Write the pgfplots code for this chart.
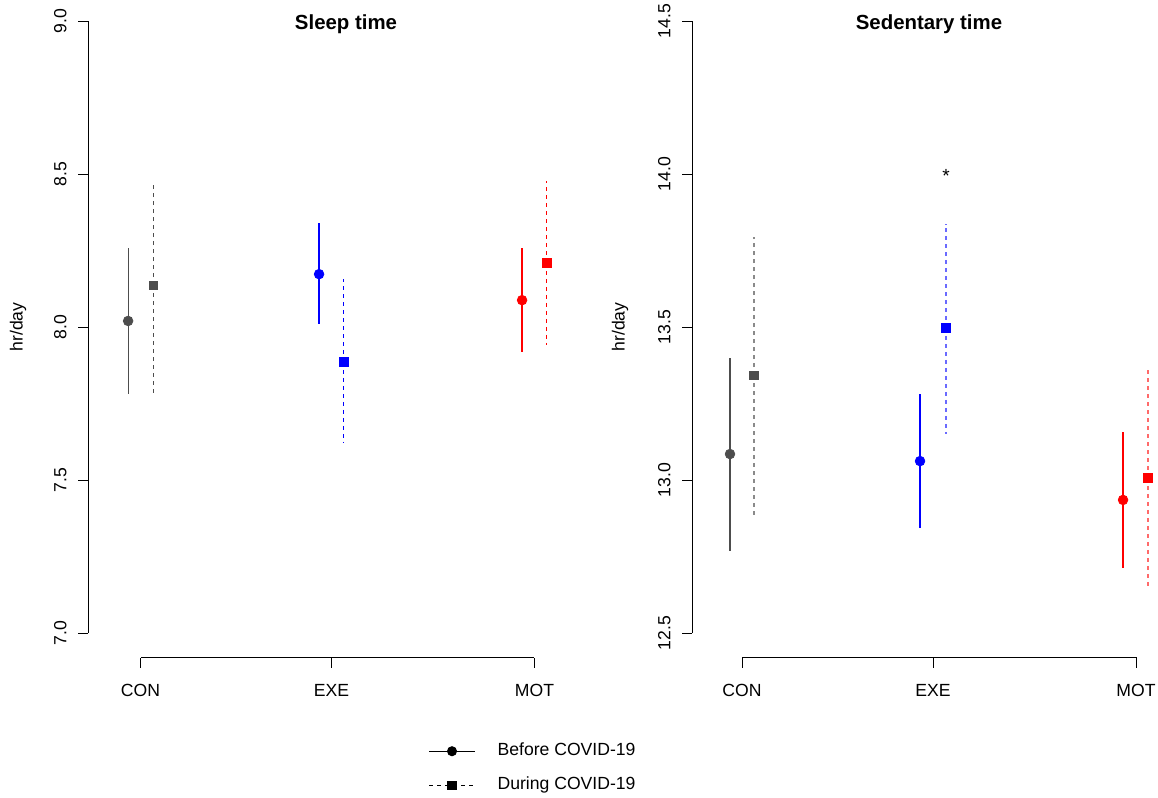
\documentclass[border=0pt]{standalone}
\usepackage{pgfplots}
\pgfplotsset{compat=1.18}
\usepackage{fontspec}
\setmainfont{Liberation Sans}
\definecolor{cgray}{HTML}{4D4D4D}
\definecolor{cgrayl}{HTML}{8A8A8A}
\definecolor{cblue}{HTML}{0000FF}
\definecolor{cbluel}{HTML}{6A6AFF}
\definecolor{cred}{HTML}{FF0000}
\definecolor{credl}{HTML}{FF6A6A}
\pgfplotsset{
  rstyle/.style={
    scale only axis,
    axis line style={draw=none},
    xtick pos=left, ytick pos=left,
    tick align=outside,
    major tick length=5pt,
    tick style={black, line width=0.5pt},
    xtick={1,2,3.063}, xticklabels={CON,EXE,MOT},
    /pgf/number format/assume math mode=true,
    yticklabel style={/pgf/number format/.cd, fixed, fixed zerofill, precision=1, /tikz/.cd,
      xshift=-5.5pt, rotate=90, anchor=south, inner sep=0pt},
    xticklabel style={anchor=north, inner sep=0pt, yshift=-8pt},
    clip=false,
  },
  bef/.style={only marks, mark=*, mark size=2.4pt, color=#1, mark options={solid, draw=#1, fill=#1},
    error bars/.cd, y dir=both, y explicit, error mark=none,
    error bar style={solid, line width=0.6pt, color=#1}, /pgfplots/.cd},
  dur/.style n args={2}{only marks, mark=square*, mark size=2.1pt, color=#1, mark options={solid, draw=#1, fill=#1},
    error bars/.cd, y dir=both, y explicit, error mark=none,
    error bar style={dash pattern=on 2pt off 2pt, line width=0.6pt, color=#2}, /pgfplots/.cd},
}
\begin{document}
\fontsize{8.8}{10.5}\selectfont
\begin{tikzpicture}
\useasboundingbox (0,0) rectangle (579pt,-399pt);
% ---------------- Sleep time ----------------
\begin{axis}[rstyle,
  at={(44pt,-328.75pt)}, anchor=south west,
  width=241pt, height=328.75pt,
  xmin=0.725, xmax=3.249, ymin=6.92, ymax=9.069,
  ytick={7,7.5,8,8.5,9},
  legend image code/.code={\draw[mark repeat=2,mark phase=2,#1] plot coordinates {(0pt,0pt) (11.5pt,0pt) (23pt,0pt)};},
  legend style={draw=none, fill=none, at={(axis description cs:0.7054,-0.129)}, anchor=north west,
    inner sep=0pt, row sep=8.5pt, column sep=11pt, nodes={inner sep=0pt, text height=6.5pt, text depth=2pt}},
  legend cell align=left,
]
\addplot[forget plot, bef=cgray] coordinates {(0.935,8.020) += (0,0.240) -= (0,0.240)};
\addplot[forget plot, dur={cgray}{cgray}] coordinates {(1.0665,8.137) += (0,0.337) -= (0,0.352)};
\addplot[forget plot, bef=cblue] coordinates {(1.935,8.173) += (0,0.167) -= (0,0.163)};
\addplot[forget plot, dur={cblue}{cblue}] coordinates {(2.065,7.886) += (0,0.271) -= (0,0.266)};
\addplot[forget plot, bef=cred] coordinates {(2.998,8.088) += (0,0.170) -= (0,0.168)};
\addplot[forget plot, dur={cred}{cred}] coordinates {(3.128,8.210) += (0,0.267) -= (0,0.270)};
\draw[black, line width=0.5pt] (axis cs:0.725,7) -- (axis cs:0.725,9);
\draw[black, line width=0.5pt] (axis cs:1,6.92) -- (axis cs:3.063,6.92);
\addlegendimage{black, solid, line width=0.6pt, mark=*, mark size=2.2pt}
\addlegendentry{Before COVID-19}
\addlegendimage{black, line width=0.6pt, dash pattern=on 2pt off 2pt, mark=square*, mark size=2pt, mark options={solid}}
\addlegendentry{During COVID-19}
\end{axis}
% ---------------- Sedentary time ----------------
\begin{axis}[rstyle,
  at={(346pt,-328.75pt)}, anchor=south west,
  width=233pt, height=328.75pt,
  xmin=0.738, xmax=3.178, ymin=12.42, ymax=14.569,
  ytick={12.5,13,13.5,14,14.5},
]
\addplot[bef=cgray] coordinates {(0.937,13.085) += (0,0.315) -= (0,0.317)};
\addplot[dur={cgray}{cgrayl}] coordinates {(1.063,13.343) += (0,0.451) -= (0,0.457)};
\addplot[bef=cblue] coordinates {(1.932,13.062) += (0,0.218) -= (0,0.219)};
\addplot[dur={cblue}{cbluel}] coordinates {(2.068,13.497) += (0,0.340) -= (0,0.347)};
\addplot[bef=cred] coordinates {(2.995,12.935) += (0,0.222) -= (0,0.223)};
\addplot[dur={cred}{credl}] coordinates {(3.126,13.007) += (0,0.353) -= (0,0.360)};
\node[anchor=base, inner sep=0pt, yshift=-4.3pt, font=\fontsize{9.5}{11}\selectfont] at (axis cs:2.068,14.0) {*};
\draw[black, line width=0.5pt] (axis cs:0.738,12.5) -- (axis cs:0.738,14.5);
\draw[black, line width=0.5pt] (axis cs:1,12.42) -- (axis cs:3.068,12.42);
\end{axis}
% titles and labels
\node[font=\fontsize{10.2}{12}\selectfont\bfseries] at (173pt,-12pt) {Sleep time};
\node[font=\fontsize{10.2}{12}\selectfont\bfseries] at (464.5pt,-12pt) {Sedentary time};
\node[rotate=90] at (9pt,-163.5pt) {hr/day};
\node[rotate=90] at (310pt,-163.5pt) {hr/day};
\end{tikzpicture}
\end{document}
